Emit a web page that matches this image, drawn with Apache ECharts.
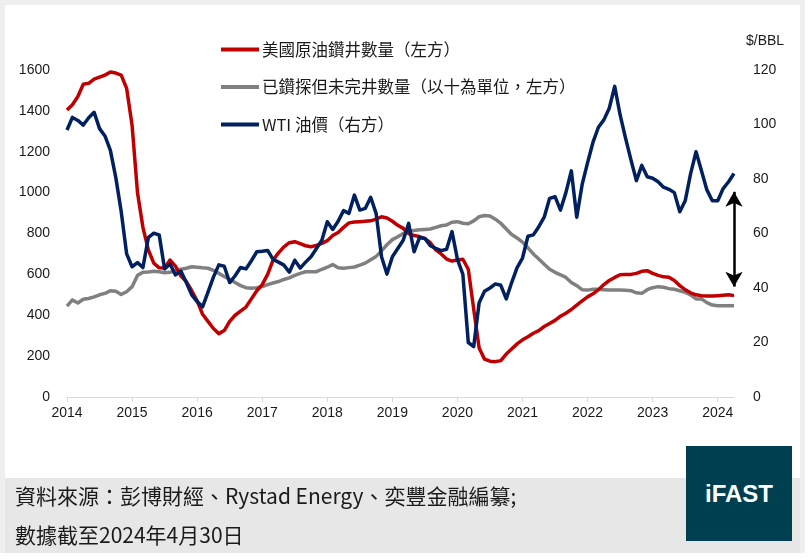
<!DOCTYPE html>
<html>
<head>
<meta charset="utf-8">
<script src="https://cdn.jsdelivr.net/npm/echarts@6/dist/echarts.min.js"></script>
<style>
  html, body { margin: 0; padding: 0; background: #ffffff; }
  #page { position: relative; width: 810px; height: 559px; overflow: hidden; background: #ffffff; }
  #frame { position: absolute; left: 0; top: 0; width: 805px; height: 553px; background: #efefef; }
  #card { position: absolute; left: 5px; top: 5px; width: 795px; height: 473px; background: #ffffff; }
  #footer { position: absolute; left: 5px; top: 478px; width: 795px; height: 75px; background: #e7e7e7; }
  #chart { position: absolute; left: 0; top: 0; width: 810px; height: 559px; }
  .note { position: absolute; left: 15px; font-family: 'Noto Sans CJK TC', 'Liberation Sans', sans-serif; font-size: 21px; color: #1a1a1a; white-space: nowrap; line-height: 24px; }
  #logo { position: absolute; left: 686px; top: 446px; width: 106px; height: 95px; background: #003f4f; color: #ffffff;
          font-family: 'Liberation Sans', Arial, sans-serif; font-weight: 700; font-size: 24px; display: flex; align-items: center; justify-content: center; }
</style>
</head>
<body>
<div id="page">
  <div id="frame"></div>
  <div id="card"></div>
  <div id="footer"></div>
  <div id="chart"></div>
  <div class="note" style="top:483px">資料來源：彭博財經、Rystad Energy、奕豐金融編纂;</div>
  <div class="note" style="top:522px">數據截至2024年4月30日</div>
  <div id="logo">iFAST</div>
</div>
<script>
// monthly points, Jan 2014 .. Apr 2024
const months = [];
for (let y = 2014; y <= 2024; y++) {
  for (let m = 1; m <= 12; m++) {
    if (y === 2024 && m > 4) break;
    months.push(y + '-' + String(m).padStart(2, '0'));
  }
}

const seriesNames = [
  '美國原油鑽井數量（左方）',
  '已鑽探但未完井數量（以十為單位，左方）',
  'WTI 油價（右方）'
];

// US crude oil rig count
const rigCount = [
  1404, 1430, 1470, 1530, 1535, 1555, 1565, 1575, 1590, 1585, 1575, 1510,
  1330, 1000, 830, 720, 655, 632, 631, 670, 640, 592, 565, 520,
  470, 405, 370, 335, 310, 325, 370, 400, 420, 440, 480, 520,
  550, 600, 670, 705, 735, 755, 760, 750, 740, 735, 742, 752,
  765, 790, 805, 830, 852, 856, 858, 860, 862, 870, 882, 876,
  860, 840, 825, 800, 790, 785, 775, 755, 720, 700, 675, 665,
  670, 674, 625, 430, 240, 185, 175, 173, 178, 210, 235, 260,
  280, 295, 312, 325, 345, 360, 375, 395, 410, 428, 450, 470,
  490, 505, 525, 550, 570, 585, 598, 600, 600, 605, 615, 618,
  605, 595, 588, 586, 570, 545, 525, 510, 500, 495, 494, 494,
  496, 498, 500, 496
];

// drilled but uncompleted wells (in tens)
const ducCount = [
  445, 475, 460, 478, 482, 490, 500, 507, 520, 518, 502, 515,
  540, 595, 610, 612, 615, 613, 608, 610, 618, 625, 630, 637,
  635, 632, 630, 620, 605, 590, 575, 560, 545, 535, 532, 535,
  540, 550, 558, 565, 575, 583, 595, 605, 613, 613, 613, 625,
  635, 648, 632, 630, 633, 636, 645, 655, 672, 688, 715, 745,
  770, 784, 800, 810, 815, 818, 820, 822, 830, 838, 842, 855,
  858, 850, 848, 862, 882, 888, 886, 870, 850, 822, 795, 778,
  758, 730, 700, 675, 650, 625, 610, 598, 585, 560, 545, 525,
  523, 527, 527, 525, 523, 523, 523, 522, 520, 510, 507, 525,
  535, 540, 537, 530, 527, 520, 512, 500, 480, 480, 462, 450,
  447, 447, 447, 447
];

// WTI price, $/BBL
const wtiPrice = [
  98.0, 102.6, 101.5, 99.8, 102.5, 104.5, 98.5, 95.8, 90.5, 80.5, 68.0, 52.5,
  47.8, 49.3, 47.5, 58.5, 60.1, 59.5, 47.0, 48.8, 44.8, 46.2, 42.0, 37.5,
  35.0, 33.1, 38.5, 44.0, 48.5, 48.0, 42.0, 44.5, 47.5, 47.0, 50.0, 53.3,
  53.5, 53.8, 50.5, 49.5, 48.4, 45.8, 50.2, 47.3, 49.5, 51.5, 54.5, 57.5,
  64.3, 61.5, 64.5, 68.4, 67.4, 74.1, 68.6, 69.2, 73.3, 67.4, 51.5, 45.1,
  51.5, 54.5, 57.5, 63.7, 53.3, 58.5, 58.2, 55.5, 54.5, 53.7, 54.2, 60.7,
  50.5, 45.0, 20.0, 18.5, 34.6, 38.8, 40.0, 41.5, 41.0, 36.0, 42.0, 47.5,
  51.0, 59.0, 59.5, 62.5, 66.0, 72.9, 73.5, 68.6, 75.0, 83.0, 66.0, 78.0,
  86.0, 93.5, 99.0, 101.7, 106.0, 114.0, 103.5, 95.0, 87.0, 79.4, 85.0, 80.8,
  80.3, 79.0, 77.0, 76.2, 75.0, 68.0, 72.0, 82.0, 90.0, 83.0, 76.0, 72.0,
  72.0, 76.5, 79.0, 82.0
];

// the spread arrow on the right edge ($/BBL)
const arrowMonth = '2024-04';
const arrowRange = [75.3, 40.5];

const leftTicks = { min: 0, max: 1600, interval: 200 };
const rightTicks = { min: 0, max: 120, interval: 20 };

const textColor = '#1a1a1a';
const numFont = "'Liberation Sans', Arial, sans-serif";
const cjkFont = "'Noto Sans CJK TC', 'Liberation Sans', sans-serif";

const chart = echarts.init(document.getElementById('chart'), null, { renderer: 'canvas' });

function lineSeries(name, data, color, yAxisIndex, z) {
  return {
    name: name,
    type: 'line',
    yAxisIndex: yAxisIndex,
    data: data,
    showSymbol: false,
    symbol: 'none',
    smooth: false,
    z: z,
    lineStyle: { color: color, width: 3.5, join: 'round' },
    itemStyle: { color: color },
    emphasis: { disabled: true }
  };
}

const wtiSeries = lineSeries(seriesNames[2], wtiPrice, '#002060', 1, 4);
wtiSeries.markLine = {
  silent: true,
  symbol: ['arrow', 'arrow'],
  symbolSize: [13, 15],
  label: { show: false },
  lineStyle: { color: '#000000', width: 2.5, type: 'solid' },
  data: [[
    { coord: [arrowMonth, arrowRange[0]] },
    { coord: [arrowMonth, arrowRange[1]] }
  ]]
};

chart.setOption({
  animation: false,
  backgroundColor: 'transparent',
  grid: { left: 67, right: 76, top: 70, bottom: 162, containLabel: false },
  legend: {
    orient: 'vertical',
    left: 216,
    top: 34,
    icon: 'rect',
    itemWidth: 38,
    itemHeight: 4,
    itemGap: 16.5,
    selectedMode: false,
    data: seriesNames,
    textStyle: { fontFamily: cjkFont, fontSize: 16.5, lineHeight: 21, color: textColor, padding: [0, 0, 0, -2] }
  },
  xAxis: {
    type: 'category',
    data: months,
    boundaryGap: false,
    axisLine: { lineStyle: { color: '#d9d9d9', width: 1 } },
    axisTick: { show: true, interval: 11, length: 5, lineStyle: { color: '#d9d9d9' } },
    axisLabel: {
      interval: 11,
      margin: 9,
      color: textColor,
      fontFamily: numFont,
      fontSize: 14,
      formatter: value => value.slice(0, 4)
    },
    splitLine: { show: false }
  },
  yAxis: [
    {
      type: 'value',
      position: 'left',
      min: leftTicks.min,
      max: leftTicks.max,
      interval: leftTicks.interval,
      axisLine: { show: false },
      axisTick: { show: false },
      splitLine: { show: false },
      axisLabel: { margin: 17, color: textColor, fontFamily: numFont, fontSize: 14, formatter: value => String(value) }
    },
    {
      type: 'value',
      position: 'right',
      min: rightTicks.min,
      max: rightTicks.max,
      interval: rightTicks.interval,
      name: '$/BBL',
      nameLocation: 'end',
      nameGap: 22,
      nameTextStyle: { color: textColor, fontFamily: numFont, fontSize: 14, align: 'left', padding: [0, 0, 0, 12] },
      axisLine: { show: false },
      axisTick: { show: false },
      splitLine: { show: false },
      axisLabel: { margin: 19, color: textColor, fontFamily: numFont, fontSize: 14, formatter: value => String(value) }
    }
  ],
  series: [
    lineSeries(seriesNames[0], rigCount, '#c00000', 0, 3),
    lineSeries(seriesNames[1], ducCount, '#808080', 0, 2),
    wtiSeries
  ]
});
</script>
</body>
</html>
